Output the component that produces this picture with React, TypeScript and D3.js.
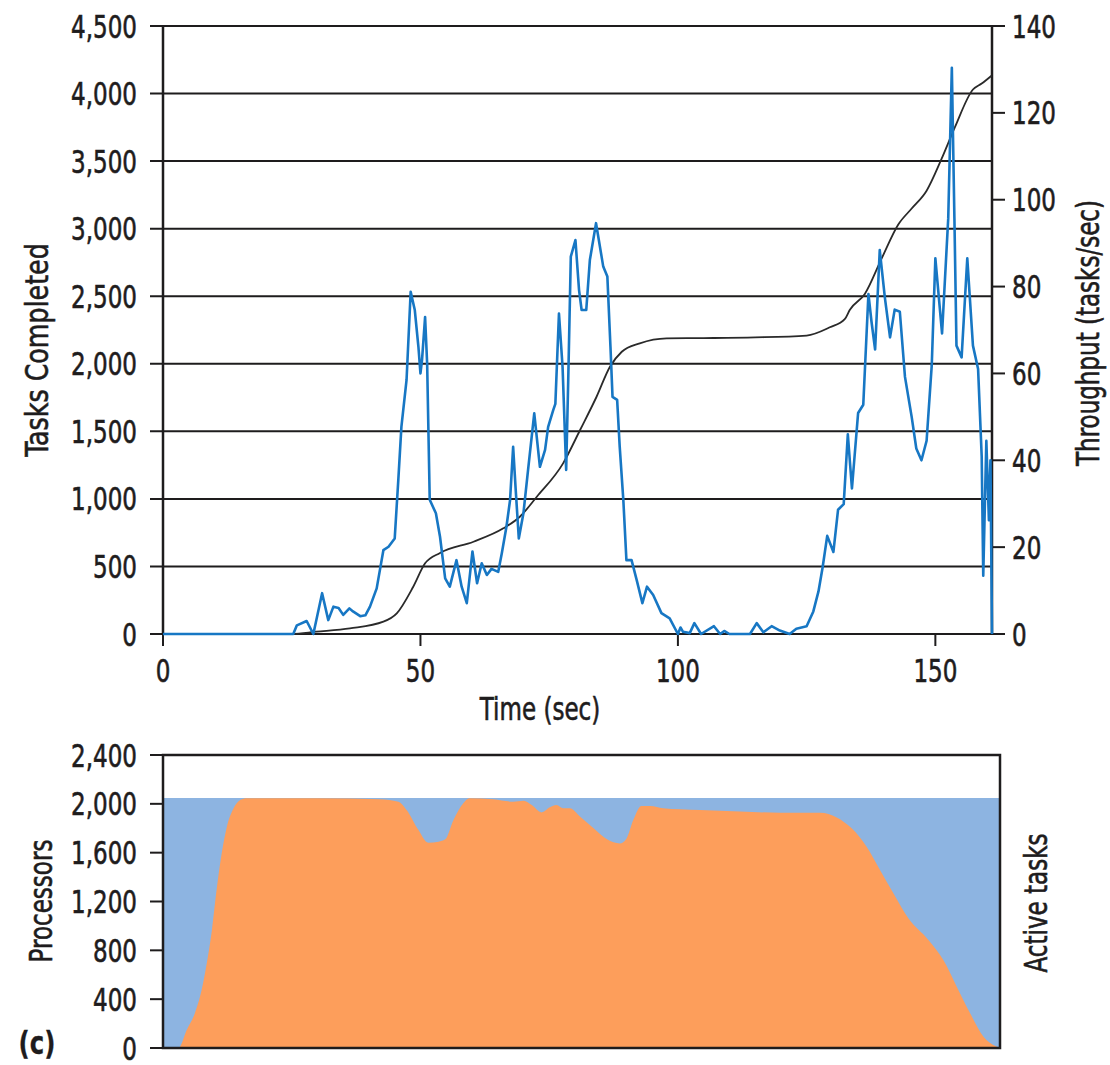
import React from 'react';
import * as d3 from 'd3';

const FONT = '"DejaVu Sans Condensed", "DejaVu Sans", sans-serif';

// ---- tick labels ----
const tasksTicks = [0, 500, 1000, 1500, 2000, 2500, 3000, 3500, 4000, 4500];
const throughputTicks = [0, 20, 40, 60, 80, 100, 120, 140];
const timeTicks = [0, 50, 100, 150];
const procTicks = [0, 400, 800, 1200, 1600, 2000, 2400];

// ---- tasks completed (cumulative) ----
const taskTime = [0, 25, 29.8, 36.3, 42.8, 45.4, 48.6, 50.9, 53.8, 60.3, 66.1, 69.3, 72.6, 77.7, 81, 84.2, 86.8, 89.1, 92.6, 97.8, 105, 115, 125, 129.5, 132.4, 133.4, 136.3, 139.6, 142.8, 145.4, 148.3, 151.2, 153.8, 157.3, 159, 160.9];
const taskDone = [0, 0, 17, 42, 91, 153, 350, 523, 600, 683, 782, 868, 1016, 1263, 1510, 1756, 1978, 2089, 2151, 2188, 2190, 2195, 2209, 2270, 2330, 2400, 2517, 2782, 3031, 3149, 3281, 3516, 3751, 4030, 4074, 4132];

// ---- throughput (tasks/sec) ----
const thrTime = [0, 25.3, 26, 27.9, 29.2, 30.9, 32.1, 33.1, 34.1, 35, 36.2, 36.9, 38.3, 39.3, 40.2, 41.5, 42.8, 43.8, 45, 45.7, 46.3, 47.3, 48.1, 48.9, 49.6, 50, 50.3, 50.9, 51.3, 51.8, 53, 53.8, 54.8, 55.7, 57, 58, 59, 60.1, 61, 61.9, 62.9, 63.8, 65.1, 65.8, 66.7, 67.4, 68, 68.5, 69.1, 70, 70.9, 72.1, 73.2, 74.2, 74.8, 75.8, 76.2, 76.9, 77.6, 78.3, 78.7, 79.2, 80.1, 80.8, 81.3, 82.2, 82.9, 84.1, 85.5, 86.3, 86.9, 87.3, 88.2, 88.7, 89.4, 90, 91, 92, 93.1, 94, 95.2, 96.8, 98.4, 100, 100.5, 101, 102.3, 103.2, 104.5, 107, 108.2, 109, 110, 114, 115.3, 116.6, 118.2, 119.8, 121.7, 123, 125, 126.3, 127.3, 128.1, 129, 130.2, 131.1, 132.2, 133, 133.8, 135, 136, 137, 137.6, 138.3, 139.2, 140.2, 141.2, 142.1, 143.1, 144.1, 145.4, 146.3, 147.3, 148.3, 149.3, 150, 151.3, 152.5, 153.2, 153.7, 154.1, 155.1, 156.2, 157.3, 158.3, 159, 159.3, 159.9, 160.4, 160.7, 161];
const thrValue = [0, 0, 2, 3, 0, 9.4, 3.2, 6.3, 6, 4.4, 5.9, 5.2, 4.1, 4.3, 6.3, 10.5, 19.3, 20.1, 22, 35.5, 47.7, 58.5, 78.8, 74.6, 66.2, 60, 63, 73, 62.3, 30.9, 27.8, 22.4, 12.8, 10.9, 17, 10.9, 7.1, 19, 11.7, 16.3, 13.6, 15, 14.3, 18.6, 24.7, 30.8, 43.1, 33.2, 22, 27.8, 37.8, 50.8, 38.5, 42.4, 47.7, 51.6, 53, 73.8, 61.5, 37.8, 58.5, 86.9, 90.7, 79.2, 74.6, 74.6, 86.1, 94.6, 84.6, 82.3, 66.2, 54.6, 53.9, 43.1, 30.9, 17, 17, 12.4, 7.1, 10.9, 9, 4.8, 3.6, 0, 1.5, 0.5, 0.2, 2.5, 0, 1.8, 0, 0.7, 0, 0, 2.5, 0.4, 1.8, 0.8, 0, 1.2, 1.8, 5.2, 9.8, 15.3, 22.6, 18.9, 28.6, 29.9, 46, 33.5, 50.9, 52.8, 78.3, 71.9, 65.5, 88.4, 77.4, 68.3, 74.7, 74.2, 59.2, 50, 42.7, 40, 44.5, 61.9, 86.5, 69.2, 95.7, 130.4, 95.7, 66.4, 63.7, 86.5, 66.4, 61, 40.9, 13.4, 44.5, 26.2, 40, 0];

// ---- bottom panel: processors and active tasks ----
const procTime = [0, 162.5];
const procCount = [2048, 2048];
const activeTime = [0, 3, 4.6, 6.2, 7.5, 8.5, 9.5, 10.4, 11.4, 12.4, 13.7, 15, 16.3, 30, 42.1, 45.7, 47.3, 49.6, 51.5, 53.5, 54.8, 56.4, 58.3, 59.5, 64.1, 68, 70, 71.6, 73.5, 75.1, 76.4, 77.7, 79, 81, 83.6, 86.2, 88.7, 90, 91.3, 92.9, 94.6, 97.1, 100.4, 104.3, 112, 119.8, 127.6, 130.8, 133.7, 136.6, 139.2, 141.8, 144.7, 148.6, 151.5, 154.1, 156.7, 159.3, 161.6, 162.5];
const activeCount = [0, 0, 147, 287, 475, 694, 966, 1294, 1595, 1812, 1963, 2031, 2045, 2045, 2037, 2017, 1949, 1785, 1681, 1690, 1709, 1867, 2004, 2045, 2037, 2017, 2025, 1990, 1930, 1971, 1990, 1963, 1963, 1894, 1800, 1709, 1676, 1717, 1867, 1982, 1982, 1963, 1955, 1949, 1938, 1927, 1927, 1889, 1799, 1649, 1458, 1267, 1062, 885, 721, 502, 284, 93, 16, 0];

const INK = '#1e1c1d';
const SX = 0.8;

type LProps = {
  x: number;
  y: number;
  anchor?: 'start' | 'middle' | 'end';
  rotate?: number;
  size?: number;
  bold?: boolean;
  sx?: number;
  children: React.ReactNode;
};

function Label({ x, y, anchor = 'middle', rotate, size = 32, bold, sx = SX, children }: LProps) {
  const t = `translate(${x},${y})${rotate ? ` rotate(${rotate})` : ''} scale(${sx},1)`;
  return (
    <text
      transform={t}
      dy="0.36em"
      textAnchor={anchor}
      fontSize={size}
      fontWeight={bold ? 'bold' : 'normal'}
      fill={INK}
      stroke={INK}
      strokeWidth={bold ? 0.3 : 0.6}
    >
      {children}
    </text>
  );
}

export default function App() {
  const x = d3.scaleLinear().domain([0, 161]).range([163, 992]);
  const yL = d3.scaleLinear().domain([0, 4500]).range([634, 26]);
  const yR = d3.scaleLinear().domain([0, 140]).range([634, 26]);
  const xb = d3.scaleLinear().domain([0, 162.5]).range([163, 1000]);
  const yb = d3.scaleLinear().domain([0, 2400]).range([1048, 755]);
  const fmt = d3.format(',');

  const taskLine = d3
    .line<number>()
    .x((_, i) => x(taskTime[i]))
    .y((d) => yL(d))
    .curve(d3.curveMonotoneX)(taskDone) || '';
  const thrLine = d3
    .line<number>()
    .x((_, i) => x(thrTime[i]))
    .y((d) => yR(d))(thrValue) || '';
  const procArea = d3
    .area<number>()
    .x((_, i) => xb(procTime[i]))
    .y0(yb(0))
    .y1((d) => yb(d))(procCount) || '';
  const activeArea = d3
    .area<number>()
    .x((_, i) => xb(activeTime[i]))
    .y0(yb(0))
    .y1((d) => yb(d))
    .curve(d3.curveMonotoneX)(activeCount) || '';

  const x0 = x.range()[0];
  const x1 = x.range()[1];

  return (
    <svg
      width={1110}
      height={1065}
      style={{ position: 'absolute', left: 0, top: 0, background: '#fff' }}
      fontFamily={FONT}
    >
      {/* ===== top panel ===== */}
      {tasksTicks.map((v) => (
        <line key={'g' + v} x1={x0 - 13} x2={x1} y1={yL(v)} y2={yL(v)} stroke={INK} strokeWidth={2} />
      ))}
      {tasksTicks.map((v) => (
        <Label key={'tl' + v} x={137} y={yL(v)} anchor="end">
          {fmt(v)}
        </Label>
      ))}
      {throughputTicks.map((v) => (
        <g key={'r' + v}>
          <line x1={x1} x2={x1 + 13} y1={yR(v)} y2={yR(v)} stroke={INK} strokeWidth={2} />
          <Label x={1012} y={yR(v)} anchor="start">
            {fmt(v)}
          </Label>
        </g>
      ))}
      {timeTicks.map((v) => (
        <g key={'x' + v}>
          <line x1={x(v)} x2={x(v)} y1={634} y2={646} stroke={INK} strokeWidth={2} />
          <Label x={x(v)} y={670}>
            {v}
          </Label>
        </g>
      ))}
      <line x1={x0} x2={x0} y1={26} y2={634} stroke={INK} strokeWidth={2.5} />
      <line x1={x1} x2={x1} y1={26} y2={634} stroke={INK} strokeWidth={2.5} />

      <path d={taskLine} fill="none" stroke="#2a2a2a" strokeWidth={1.8} />
      <path d={thrLine} fill="none" stroke="#1777c4" strokeWidth={2.6} strokeLinejoin="round" />

      <Label x={540} y={708}>Time (sec)</Label>
      <Label x={36} y={350} rotate={-90} sx={0.88}>Tasks Completed</Label>
      <Label x={1087} y={333} rotate={-90}>Throughput (tasks/sec)</Label>

      {/* ===== bottom panel ===== */}
      <path d={procArea} fill="#8db4e1" />
      <path d={activeArea} fill="#fd9e5b" />
      <rect x={163} y={755} width={1000 - 163} height={1048 - 755} fill="none" stroke={INK} strokeWidth={2.5} />
      {procTicks.map((v) => (
        <g key={'p' + v}>
          <line x1={150} x2={163} y1={yb(v)} y2={yb(v)} stroke={INK} strokeWidth={2} />
          <Label x={137} y={yb(v)} anchor="end">
            {fmt(v)}
          </Label>
        </g>
      ))}
      <Label x={40} y={901} rotate={-90}>Processors</Label>
      <Label x={1035} y={903} rotate={-90}>Active tasks</Label>
      <Label x={37} y={1042} size={32} bold sx={0.85}>(c)</Label>
    </svg>
  );
}
